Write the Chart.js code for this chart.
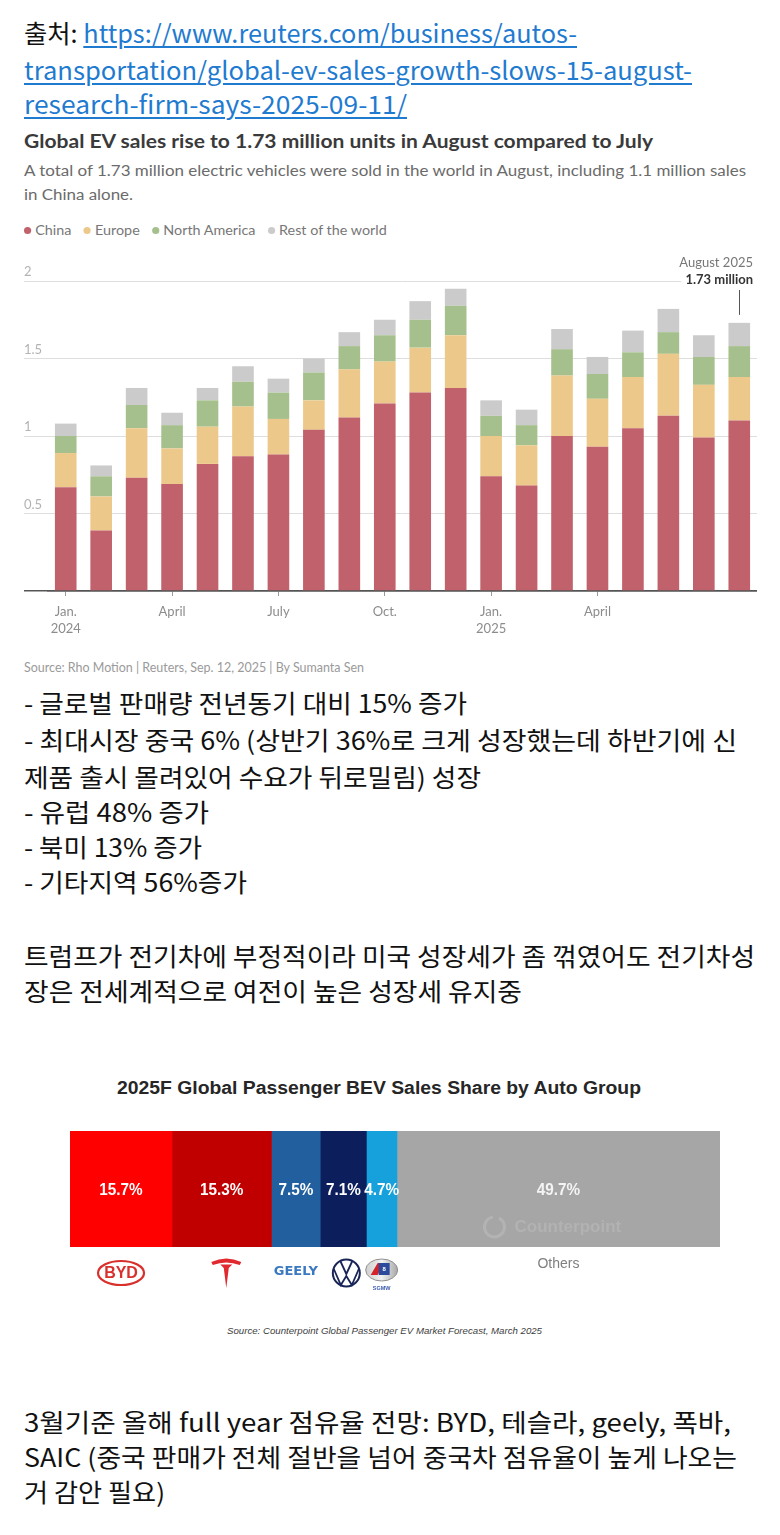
<!DOCTYPE html>
<html><head><meta charset="utf-8">
<script src="https://cdn.jsdelivr.net/npm/chart.js@4.4.1/dist/chart.umd.min.js"></script>
<style>
html,body{margin:0;padding:0;background:#fff;}
#page{position:relative;width:780px;height:1535px;overflow:hidden;background:#fff;}
.t{position:absolute;white-space:nowrap;display:inline-block;transform-origin:0 50%;}
.kr{font-family:"Noto Sans CJK KR","Noto Sans",sans-serif;font-size:25px;line-height:36px;color:#111;}
.kr a{color:#1f7bd0;text-decoration:underline;text-decoration-thickness:1.5px;text-underline-offset:3px;}
.rt{font-family:Lato,"Open Sans",sans-serif;}
.ttl{font-size:18px;font-weight:700;color:#3a3a3a;line-height:24px;}
.sub{font-size:15.5px;color:#6b6b6b;line-height:24px;font-weight:400;}
.leg{font-size:14px;color:#777;line-height:20px;display:flex;align-items:center;}
.leg span.i{display:inline-flex;align-items:center;margin-right:12px;}
.leg span.d{display:inline-block;width:7px;height:7px;border-radius:50%;margin-right:4px;}
.src{font-size:12.5px;color:#9a9a9a;line-height:18px;}
.cp{font-family:"Liberation Sans",Arial,sans-serif;}
.box{position:absolute;}
</style></head>
<body><div id="page">

<div class="t kr" data-w="553" style="left:24px;top:14px">출처: <a>https://www.reuters.com/business/autos-</a></div>
<div class="t kr" data-w="668" style="left:24px;top:51px"><a>transportation/global-ev-sales-growth-slows-15-august-</a></div>
<div class="t kr" data-w="383" style="left:24px;top:85px"><a>research-firm-says-2025-09-11/</a></div>

<div class="t rt ttl" data-w="629" style="left:24px;top:129px">Global EV sales rise to 1.73 million units in August compared to July</div>
<div class="t rt sub" data-w="722" style="left:24px;top:158px">A total of 1.73 million electric vehicles were sold in the world in August, including 1.1 million sales</div>
<div class="t rt sub" data-w="109" style="left:24px;top:182px">in China alone.</div>
<div id="legend" class="t rt leg" data-w="375" style="left:24px;top:220px"></div>

<div class="box" style="left:24px;top:240px;width:733px;height:401px;"><canvas id="c1" width="733" height="401"></canvas></div>

<div class="t rt src" data-w="340" style="left:24px;top:659px">Source: Rho Motion | Reuters, Sep. 12, 2025 | By Sumanta Sen</div>

<div class="t kr" data-w="443" style="left:24px;top:684px">- 글로벌 판매량 전년동기 대비 15% 증가</div>
<div class="t kr" data-w="713" style="left:24px;top:721px">- 최대시장 중국 6% (상반기 36%로 크게 성장했는데 하반기에 신</div>
<div class="t kr" data-w="457" style="left:24px;top:758px">제품 출시 몰려있어 수요가 뒤로밀림) 성장</div>
<div class="t kr" data-w="185" style="left:24px;top:793px">- 유럽 48% 증가</div>
<div class="t kr" data-w="178" style="left:24px;top:828px">- 북미 13% 증가</div>
<div class="t kr" data-w="223" style="left:24px;top:863px">- 기타지역 56%증가</div>
<div class="t kr" data-w="731" style="left:24px;top:937px">트럼프가 전기차에 부정적이라 미국 성장세가 좀 꺾였어도 전기차성</div>
<div class="t kr" data-w="498" style="left:24px;top:972px">장은 전세계적으로 여전이 높은 성장세 유지중</div>

<div class="t cp" data-w="524" data-cx="378.5" style="top:1076px;font-size:18px;font-weight:700;color:#262626;line-height:24px;">2025F Global Passenger BEV Sales Share by Auto Group</div>
<div class="box" style="left:60px;top:1121px;width:680px;height:200px;"><canvas id="c2" width="680" height="200"></canvas></div>
<div class="t cp" data-w="315" data-cx="384" style="top:1324px;font-size:9.5px;font-style:italic;color:#404040;line-height:14px;">Source: Counterpoint Global Passenger EV Market Forecast, March 2025</div>

<div class="t kr" data-w="707" style="left:24px;top:1403px">3월기준 올해 full year 점유율 전망: BYD, 테슬라, geely, 폭바,</div>
<div class="t kr" data-w="713" style="left:24px;top:1438px">SAIC (중국 판매가 전체 절반을 넘어 중국차 점유율이 높게 나오는</div>
<div class="t kr" data-w="141" style="left:24px;top:1473px">거 감안 필요)</div>

</div>
<script>
// ---------- Chart 1 data ----------
const months = ['2024-01','2024-02','2024-03','2024-04','2024-05','2024-06','2024-07','2024-08','2024-09','2024-10','2024-11','2024-12',
                '2025-01','2025-02','2025-03','2025-04','2025-05','2025-06','2025-07','2025-08'];
const tickLabels = [['Jan.','2024'],'','','April','','','July','','','Oct.','','',['Jan.','2025'],'','','April','','','',''];
const regionNames = ['China','Europe','North America','Rest of the world'];
const regionColors = ['#c0616b','#ecc98a','#a5c08c','#cbcbcb'];
const china        = [0.67,0.39,0.73,0.69,0.82,0.87,0.88,1.04,1.12,1.21,1.28,1.31,0.74,0.68,1.00,0.93,1.05,1.13,0.99,1.10];
const europe       = [0.22,0.22,0.32,0.23,0.24,0.32,0.23,0.19,0.31,0.27,0.29,0.34,0.26,0.26,0.39,0.31,0.33,0.40,0.34,0.28];
const northAmerica = [0.11,0.13,0.15,0.15,0.17,0.16,0.17,0.18,0.15,0.17,0.18,0.19,0.13,0.13,0.17,0.16,0.16,0.14,0.18,0.20];
const restOfWorld  = [0.08,0.07,0.11,0.08,0.08,0.10,0.09,0.09,0.09,0.10,0.12,0.11,0.10,0.10,0.13,0.11,0.14,0.15,0.14,0.15];
const annotTitle = 'August 2025';

// ---------- Chart 2 data ----------
const groups = ['BYD','Tesla','Geely','VW','SGMW','Others'];
const shares = [15.7,15.3,7.5,7.1,4.7,49.7];
const groupColors = ['#ff0000','#c00000','#225f9e','#0c1f5c','#17a1dc','#a6a6a6'];

// legend
const leg = document.getElementById('legend');
regionNames.forEach((n,i)=>{
  const s=document.createElement('span'); s.className='i';
  s.innerHTML='<span class="d" style="background:'+regionColors[i]+'"></span>'+n;
  leg.appendChild(s);
});

function fit(){
  document.querySelectorAll('[data-w]').forEach(el=>{
    el.style.transform='none';
    const w=el.getBoundingClientRect().width;
    const t=parseFloat(el.dataset.w);
    if(el.dataset.cx) el.style.left=(parseFloat(el.dataset.cx)-t/2)+'px';
    el.style.transform='scaleX('+(t/w)+')';
  });
}
fit();
if(document.fonts&&document.fonts.ready) document.fonts.ready.then(fit);

const annot={id:'annot',afterDatasetsDraw(chart){
  const {ctx,chartArea,scales:{x,y}}=chart;
  const i=months.length-1;
  const total=china[i]+europe[i]+northAmerica[i]+restOfWorld[i];
  const px=Math.round(x.getPixelForValue(i))+0.5;
  const top=y.getPixelForValue(total);
  const right=chartArea.right-4;
  ctx.save();
  ctx.textAlign='right';ctx.textBaseline='middle';
  ctx.font='bold 13px Lato';
  const t2=total.toFixed(2)+' million';
  const w2=ctx.measureText(t2).width;
  ctx.fillStyle='#fff';ctx.fillRect(right-w2-4,chartArea.top-8,w2+8,15);
  ctx.fillStyle='#333';ctx.fillText(t2,right,chartArea.top-1);
  ctx.font='13px Lato';ctx.fillStyle='#777';
  ctx.fillText(annotTitle,right,chartArea.top-18);
  ctx.strokeStyle='#555';ctx.lineWidth=1;
  ctx.beginPath();ctx.moveTo(px,chartArea.top+9);ctx.lineTo(px,top-8);ctx.stroke();
  ctx.restore();
}};

Chart.defaults.font.family='Lato';
new Chart(document.getElementById('c1'),{
  type:'bar',
  data:{labels:months,datasets:[
    {label:regionNames[0],data:china,backgroundColor:regionColors[0]},
    {label:regionNames[1],data:europe,backgroundColor:regionColors[1]},
    {label:regionNames[2],data:northAmerica,backgroundColor:regionColors[2]},
    {label:regionNames[3],data:restOfWorld,backgroundColor:regionColors[3]}]},
  options:{
    responsive:false,animation:false,
    layout:{padding:{top:41,left:0,right:0,bottom:0}},
    plugins:{legend:{display:false},tooltip:{enabled:false}},
    datasets:{bar:{categoryPercentage:1,barPercentage:0.61,borderWidth:0}},
    scales:{
      x:{stacked:true,offset:true,
        grid:{display:true,drawOnChartArea:false,drawTicks:true,tickLength:5,offset:false,
          color:c=>tickLabels[c.index]?'#999':'rgba(0,0,0,0)'},
        border:{display:true,color:'#555',width:1.5},
        ticks:{autoSkip:false,maxRotation:0,minRotation:0,padding:7,color:'#8c8c8c',font:{size:13,lineHeight:1.3},
          callback:(v,i)=>tickLabels[i]},
        afterFit:s=>{s.height=50;}},
      y:{stacked:true,min:0,max:2,afterFit:s=>{s.width=24;},border:{display:false},
        grid:{color:c=>c.tick&&c.tick.value===0?'#555':'#dedede',lineWidth:c=>c.tick&&c.tick.value===0?1.5:1,tickLength:24,drawTicks:true},
        ticks:{stepSize:0.5,crossAlign:'far',labelOffset:-9,padding:0,color:'#b3b3b3',font:{size:13},
          callback:v=>v===0?'':v}}
    }
  },
  plugins:[annot]
});

// ---------- Chart 2 ----------
function drawLogos(ctx,cx,idx,bottom){
  ctx.save();
  const cy=bottom+26;
  if(idx===0){ // BYD
    ctx.strokeStyle='#d8302c';ctx.lineWidth=2.2;
    ctx.beginPath();ctx.ellipse(cx,cy,23,12,0,0,Math.PI*2);ctx.stroke();
    ctx.fillStyle='#d8302c';ctx.font='bold 16px "Liberation Sans Narrow","Liberation Sans"';
    ctx.textAlign='center';ctx.textBaseline='middle';ctx.fillText('BYD',cx,cy+1);
  } else if(idx===1){ // Tesla
    const x=cx+4.5, t=bottom+12;
    ctx.fillStyle='#e0282e';
    ctx.beginPath();ctx.moveTo(x-15,t+3);ctx.quadraticCurveTo(x,t-4,x+15,t+3);ctx.lineTo(x+13.5,t+6);
    ctx.quadraticCurveTo(x,t+1,x-13.5,t+6);ctx.closePath();ctx.fill();
    ctx.beginPath();ctx.moveTo(x-6,t+5.5);ctx.lineTo(x+6,t+5.5);ctx.lineTo(x+2.5,t+9);ctx.lineTo(x,t+29);ctx.lineTo(x-2.5,t+9);ctx.closePath();ctx.fill();
  } else if(idx===2){ // Geely
    ctx.fillStyle='#3a78bf';ctx.font='bold 13px "DejaVu Sans"';
    ctx.textAlign='center';ctx.textBaseline='middle';ctx.fillText('GEELY',cx,cy-1);
  } else if(idx===3){ // VW
    const x=cx+3;
    ctx.strokeStyle='#1a2557';ctx.lineWidth=2;
    ctx.beginPath();ctx.arc(x,cy,13.5,0,Math.PI*2);ctx.stroke();
    ctx.lineWidth=1.8;ctx.lineJoin='miter';
    ctx.beginPath();ctx.moveTo(x-6,cy-12);ctx.lineTo(x,cy+1);ctx.lineTo(x+6,cy-12);ctx.stroke();
    ctx.beginPath();ctx.moveTo(x-12.5,cy-4);ctx.lineTo(x-5.5,cy+12);ctx.lineTo(x,cy+3);ctx.lineTo(x+5.5,cy+12);ctx.lineTo(x+12.5,cy-4);ctx.stroke();
  } else if(idx===4){ // SGMW
    const y=cy-3;
    const g=ctx.createLinearGradient(cx-16,y,cx+16,y);g.addColorStop(0,'#d0d0d0');g.addColorStop(0.5,'#f0f0f0');g.addColorStop(1,'#a8a8a8');
    ctx.fillStyle=g;ctx.strokeStyle='#8f8f8f';ctx.lineWidth=1;
    ctx.beginPath();ctx.ellipse(cx,y,16,11,0,0,Math.PI*2);ctx.fill();ctx.stroke();
    ctx.fillStyle='#d2232a';ctx.beginPath();ctx.moveTo(cx-11,y+5);ctx.lineTo(cx-4,y-7);ctx.lineTo(cx+2,y-7);ctx.lineTo(cx-4,y+5);ctx.closePath();ctx.fill();
    ctx.fillStyle='#2b4a9c';ctx.fillRect(cx-3,y-7,11,12);
    ctx.fillStyle='#fff';ctx.font='bold 6px "Liberation Sans"';ctx.textAlign='center';ctx.textBaseline='middle';ctx.fillText('8',cx+2.5,y-1);
    ctx.fillStyle='#3a5bb0';ctx.font='bold 5.5px "Liberation Sans"';ctx.fillText('SGMW',cx,cy+15);
  } else { // Others
    ctx.fillStyle='#7f7f7f';ctx.font='14px "Liberation Sans"';ctx.textAlign='center';ctx.textBaseline='middle';
    ctx.fillText(groups[idx],cx,bottom+17);
  }
  ctx.restore();
}

const segPlugin={id:'seg',afterDatasetsDraw(chart){
  const {ctx,chartArea}=chart;
  ctx.save();
  // watermark in the last segment
  const lastBar=chart.getDatasetMeta(shares.length-1).data[0];
  const wx=(lastBar.x+lastBar.base)/2-64, wy=chartArea.bottom-20;
  ctx.strokeStyle='#b3b3b3';ctx.lineWidth=3;
  ctx.beginPath();ctx.arc(wx,wy,10,-Math.PI*0.35,Math.PI*1.45);ctx.stroke();
  ctx.fillStyle='#b2b2b2';ctx.font='bold 17px "Liberation Sans"';ctx.textAlign='left';ctx.textBaseline='middle';
  ctx.fillText('Counterpoint',wx+20,wy);
  shares.forEach((v,i)=>{
    const bar=chart.getDatasetMeta(i).data[0];
    const cx=(bar.x+bar.base)/2;
    ctx.fillStyle=i===shares.length-1?'#f4f4f4':'#fff';
    ctx.font='bold 17px "Liberation Sans Narrow","Liberation Sans"';
    ctx.textAlign='center';ctx.textBaseline='middle';
    ctx.save();ctx.translate(cx,bar.y+1);ctx.scale(0.9,1);
    ctx.fillText(v.toFixed(1)+'%',0,0);
    ctx.restore();
    drawLogos(ctx,cx,i,chartArea.bottom);
  });
  ctx.restore();
}};

new Chart(document.getElementById('c2'),{
  type:'bar',
  data:{labels:[''],datasets:groups.map((g,i)=>({label:g,data:[shares[i]],backgroundColor:groupColors[i]}))},
  options:{
    indexAxis:'y',responsive:false,animation:false,
    layout:{padding:{left:10,right:20,top:10,bottom:74}},
    plugins:{legend:{display:false},tooltip:{enabled:false}},
    datasets:{bar:{categoryPercentage:1,barPercentage:1,borderWidth:0}},
    scales:{x:{stacked:true,min:0,max:100,display:false},y:{stacked:true,display:false}}
  },
  plugins:[segPlugin]
});
</script>
</body></html>
